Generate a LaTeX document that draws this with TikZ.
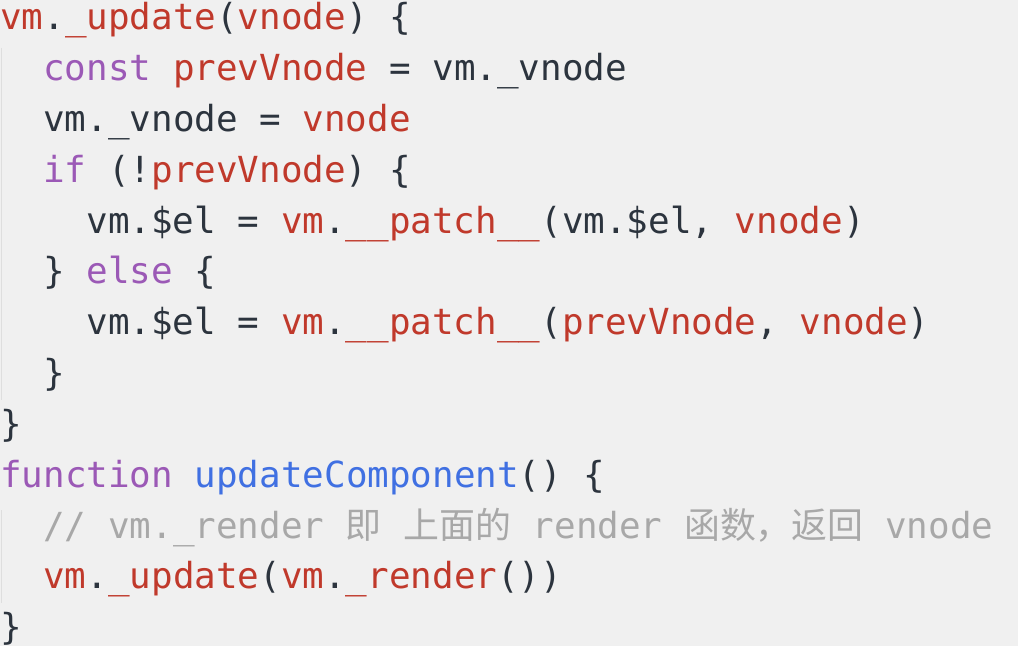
\documentclass[tikz,border=0pt]{standalone}
\usepackage{fontspec}
\setmonofont{DejaVu Sans Mono}
\newfontfamily\cjk{Noto Sans CJK SC}

\definecolor{codebg}{RGB}{240,240,240}
\definecolor{codefg}{RGB}{44,52,62}
\definecolor{codered}{RGB}{192,57,43}
\definecolor{codepurple}{RGB}{155,89,182}
\definecolor{codeblue}{RGB}{64,112,226}
\definecolor{codegray}{RGB}{168,168,168}
\definecolor{codeguide}{RGB}{222,222,222}

\newcommand{\codefont}{\fontsize{35.9pt}{50.8pt}\selectfont\ttfamily}
\newcommand{\kwtok}[1]{\textcolor{codepurple}{#1}}
\newcommand{\redtok}[1]{\textcolor{codered}{#1}}
\newcommand{\bluetok}[1]{\textcolor{codeblue}{#1}}
\newcommand{\comtok}[1]{\textcolor{codegray}{#1}}

\begin{document}
\begin{tikzpicture}[x=21.58pt,y=-50.8pt,
		codeline/.style={anchor=base west,inner sep=0pt,text=codefg,font=\codefont},
		guide/.style={draw=codeguide,line width=0.8pt}]
		% Editor background, fixes the page size
		\path[use as bounding box,fill=codebg] (0,0) rectangle (47.17,12.717);

		% Indent guides
		\draw[guide] (0.05,0.94) -- (0.05,7.87);
		\draw[guide] (0.05,10.04) -- (0.05,11.87);

		% vm._update
		\node[codeline] (l1) at (0,0.59)
			{\redtok{vm}.\redtok{\_update}(\redtok{vnode}) \{};
		\node[codeline] (l2) at (2,1.59)
			{\kwtok{const} \redtok{prevVnode} = vm.\_vnode};
		\node[codeline] (l3) at (2,2.59)
			{vm.\_vnode = \redtok{vnode}};
		\node[codeline] (l4) at (2,3.59)
			{\kwtok{if} (!\redtok{prevVnode}) \{};
		\node[codeline] (l5) at (4,4.59)
			{vm.\$el = \redtok{vm}.\redtok{\_\_patch\_\_}(vm.\$el, \redtok{vnode})};
		\node[codeline] (l6) at (2,5.59)
			{\} \kwtok{else} \{};
		\node[codeline] (l7) at (4,6.59)
			{vm.\$el = \redtok{vm}.\redtok{\_\_patch\_\_}(\redtok{prevVnode}, \redtok{vnode})};
		\node[codeline] (l8) at (2,7.59) {\}};
		\node[codeline] (l9) at (0,8.59) {\}};

		% updateComponent
		\node[codeline] (l10) at (0,9.59)
			{\kwtok{function} \bluetok{updateComponent}() \{};
		\node[codeline] (l11) at (2,10.59)
			{\comtok{// vm.\_render {\cjk 即} {\cjk 上面的} render {\cjk 函数，返回} vnode}};
		\node[codeline] (l12) at (2,11.59)
			{\redtok{vm}.\redtok{\_update}(\redtok{vm}.\redtok{\_render}())};
		\node[codeline] (l13) at (0,12.59) {\}};
	\end{tikzpicture}
\end{document}
